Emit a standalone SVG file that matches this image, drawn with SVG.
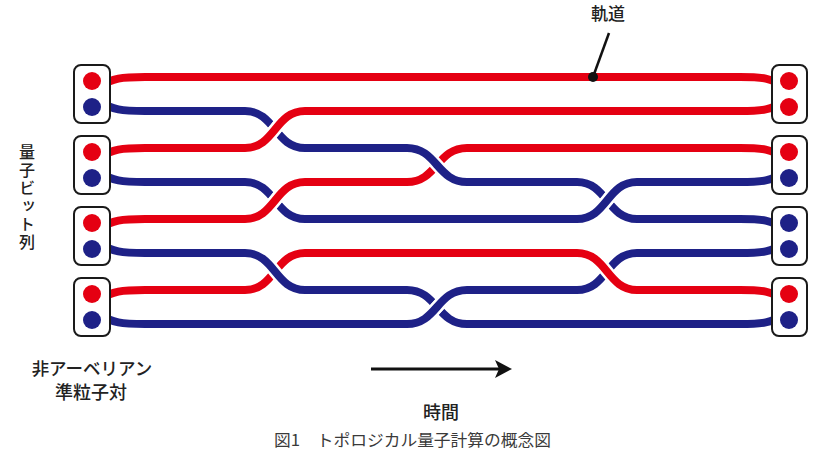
<svg xmlns="http://www.w3.org/2000/svg" width="828" height="461" viewBox="0 0 828 461">
<defs>
<style>
.cas{fill:none;stroke:#fff;stroke-width:13;}
.r{fill:none;stroke:#e50012;stroke-width:8;}
.b{fill:none;stroke:#1e2187;stroke-width:8;}
.box{fill:#fff;stroke:#1a1a1a;stroke-width:2;}
.cr{fill:#e50012;}
.cb{fill:#1e2187;}
.t{font-family:"Noto Sans CJK JP","Noto Sans",sans-serif;fill:#222;font-weight:500;}
.cap{font-family:"Noto Sans CJK JP","Noto Sans",sans-serif;fill:#3a3a3a;font-size:16px;}
</style>
</defs>
<rect width="828" height="461" fill="#fff"/>
<g id="connectors">
<g id="s1"><path class="cas" d="M100,87 C112,78 122,77 145,77 L740,77 C762,77 772,78 784,87"/><path class="r" d="M100,87 C112,78 122,77 145,77 L740,77 C762,77 772,78 784,87"/></g>
<g id="s2"><path class="cas" d="M100,101 C112,110 122,111 145,111 L245,111 C275,111 275,148 305,148 L407,148 C437,148 437,182 467,182 L577,182 C607,182 607,219 637,219 L740,219 C762,219 772,220 784,229"/><path class="b" d="M100,101 C112,110 122,111 145,111 L245,111 C275,111 275,148 305,148 L407,148 C437,148 437,182 467,182 L577,182 C607,182 607,219 637,219 L740,219 C762,219 772,220 784,229"/></g>
<g id="s3"><path class="cas" d="M100,158 C112,149 122,148 145,148 L245,148 C275,148 275,111 305,111 L740,111 C762,111 772,110 784,101"/><path class="r" d="M100,158 C112,149 122,148 145,148 L245,148 C275,148 275,111 305,111 L740,111 C762,111 772,110 784,101"/></g>
<g id="s4"><path class="cas" d="M100,172 C112,181 122,182 145,182 L245,182 C275,182 275,219 305,219 L577,219 C607,219 607,182 637,182 L740,182 C762,182 772,181 784,172"/><path class="b" d="M100,172 C112,181 122,182 145,182 L245,182 C275,182 275,219 305,219 L577,219 C607,219 607,182 637,182 L740,182 C762,182 772,181 784,172"/></g>
<g id="s5"><path class="cas" d="M100,229 C112,220 122,219 145,219 L245,219 C275,219 275,182 305,182 L407,182 C437,182 437,148 467,148 L740,148 C762,148 772,149 784,158"/><path class="r" d="M100,229 C112,220 122,219 145,219 L245,219 C275,219 275,182 305,182 L407,182 C437,182 437,148 467,148 L740,148 C762,148 772,149 784,158"/></g>
<g id="s6"><path class="cas" d="M100,243 C112,252 122,253 145,253 L245,253 C275,253 275,290 305,290 L407,290 C437,290 437,324 467,324 L740,324 C762,324 772,323 784,314"/><path class="b" d="M100,243 C112,252 122,253 145,253 L245,253 C275,253 275,290 305,290 L407,290 C437,290 437,324 467,324 L740,324 C762,324 772,323 784,314"/></g>
<g id="s7"><path class="cas" d="M100,300 C112,291 122,290 145,290 L245,290 C275,290 275,253 305,253 L577,253 C607,253 607,290 637,290 L740,290 C762,290 772,291 784,300"/><path class="r" d="M100,300 C112,291 122,290 145,290 L245,290 C275,290 275,253 305,253 L577,253 C607,253 607,290 637,290 L740,290 C762,290 772,291 784,300"/></g>
<g id="s8"><path class="cas" d="M100,314 C112,323 122,324 145,324 L407,324 C437,324 437,290 467,290 L577,290 C607,290 607,253 637,253 L740,253 C762,253 772,252 784,243"/><path class="b" d="M100,314 C112,323 122,324 145,324 L407,324 C437,324 437,290 467,290 L577,290 C607,290 607,253 637,253 L740,253 C762,253 772,252 784,243"/></g>
<g id="over">
<path class="cas" d="M245,148 C275,148 275,111 305,111"/><path class="r" d="M245,148 C275,148 275,111 305,111"/>
<path class="cas" d="M245,219 C275,219 275,182 305,182"/><path class="r" d="M245,219 C275,219 275,182 305,182"/>
<path class="cas" d="M245,253 C275,253 275,290 305,290"/><path class="b" d="M245,253 C275,253 275,290 305,290"/>
<path class="cas" d="M407,148 C437,148 437,182 467,182"/><path class="b" d="M407,148 C437,148 437,182 467,182"/>
<path class="cas" d="M407,324 C437,324 437,290 467,290"/><path class="b" d="M407,324 C437,324 437,290 467,290"/>
<path class="cas" d="M577,219 C607,219 607,182 637,182"/><path class="b" d="M577,219 C607,219 607,182 637,182"/>
<path class="cas" d="M577,253 C607,253 607,290 637,290"/><path class="r" d="M577,253 C607,253 607,290 637,290"/>
</g>
<g id="pointer"><line x1="609" y1="33" x2="593" y2="77" stroke="#111" stroke-width="2.5"/><circle cx="593" cy="77" r="5" fill="#111"/></g>
<g id="time-arrow"><line x1="371" y1="369" x2="500" y2="369" stroke="#111" stroke-width="3"/><polygon points="512,369 495,360 499,369 495,378" fill="#111"/></g>
</g>
<g id="left-1"><rect class="box" x="74" y="65" width="36" height="58" rx="7"/><circle class="cr" cx="92" cy="81" r="9"/><circle class="cb" cx="92" cy="107" r="9"/></g>
<g id="left-2"><rect class="box" x="74" y="136" width="36" height="58" rx="7"/><circle class="cr" cx="92" cy="152" r="9"/><circle class="cb" cx="92" cy="178" r="9"/></g>
<g id="left-3"><rect class="box" x="74" y="207" width="36" height="58" rx="7"/><circle class="cr" cx="92" cy="223" r="9"/><circle class="cb" cx="92" cy="249" r="9"/></g>
<g id="left-4"><rect class="box" x="74" y="278" width="36" height="58" rx="7"/><circle class="cr" cx="92" cy="294" r="9"/><circle class="cb" cx="92" cy="320" r="9"/></g>
<g id="right-1"><rect class="box" x="772" y="65" width="35" height="58" rx="7"/><circle class="cr" cx="789" cy="81" r="9"/><circle class="cr" cx="789" cy="107" r="9"/></g>
<g id="right-2"><rect class="box" x="772" y="136" width="35" height="58" rx="7"/><circle class="cr" cx="789" cy="152" r="9"/><circle class="cb" cx="789" cy="178" r="9"/></g>
<g id="right-3"><rect class="box" x="772" y="207" width="35" height="58" rx="7"/><circle class="cb" cx="789" cy="223" r="9"/><circle class="cb" cx="789" cy="249" r="9"/></g>
<g id="right-4"><rect class="box" x="772" y="278" width="35" height="58" rx="7"/><circle class="cr" cx="789" cy="294" r="9"/><circle class="cb" cx="789" cy="320" r="9"/></g>
<g id="label-orbit"><text class="t" x="608" y="20" font-size="17" text-anchor="middle">軌道</text></g>
<g id="label-qubits"><text class="t" x="27" y="144" font-size="16" writing-mode="vertical-rl" letter-spacing="2">量子ビット列</text></g>
<g id="label-anyon"><text class="t" x="92" y="375" font-size="17.5" text-anchor="middle">非アーベリアン</text><text class="t" x="91" y="399" font-size="18" text-anchor="middle">準粒子対</text></g>
<g id="label-time"><text class="t" x="441" y="419" font-size="18" text-anchor="middle">時間</text></g>
<g id="caption"><text class="cap" x="274" y="446" textLength="277" lengthAdjust="spacingAndGlyphs">図1　トポロジカル量子計算の概念図</text></g>
</svg>
